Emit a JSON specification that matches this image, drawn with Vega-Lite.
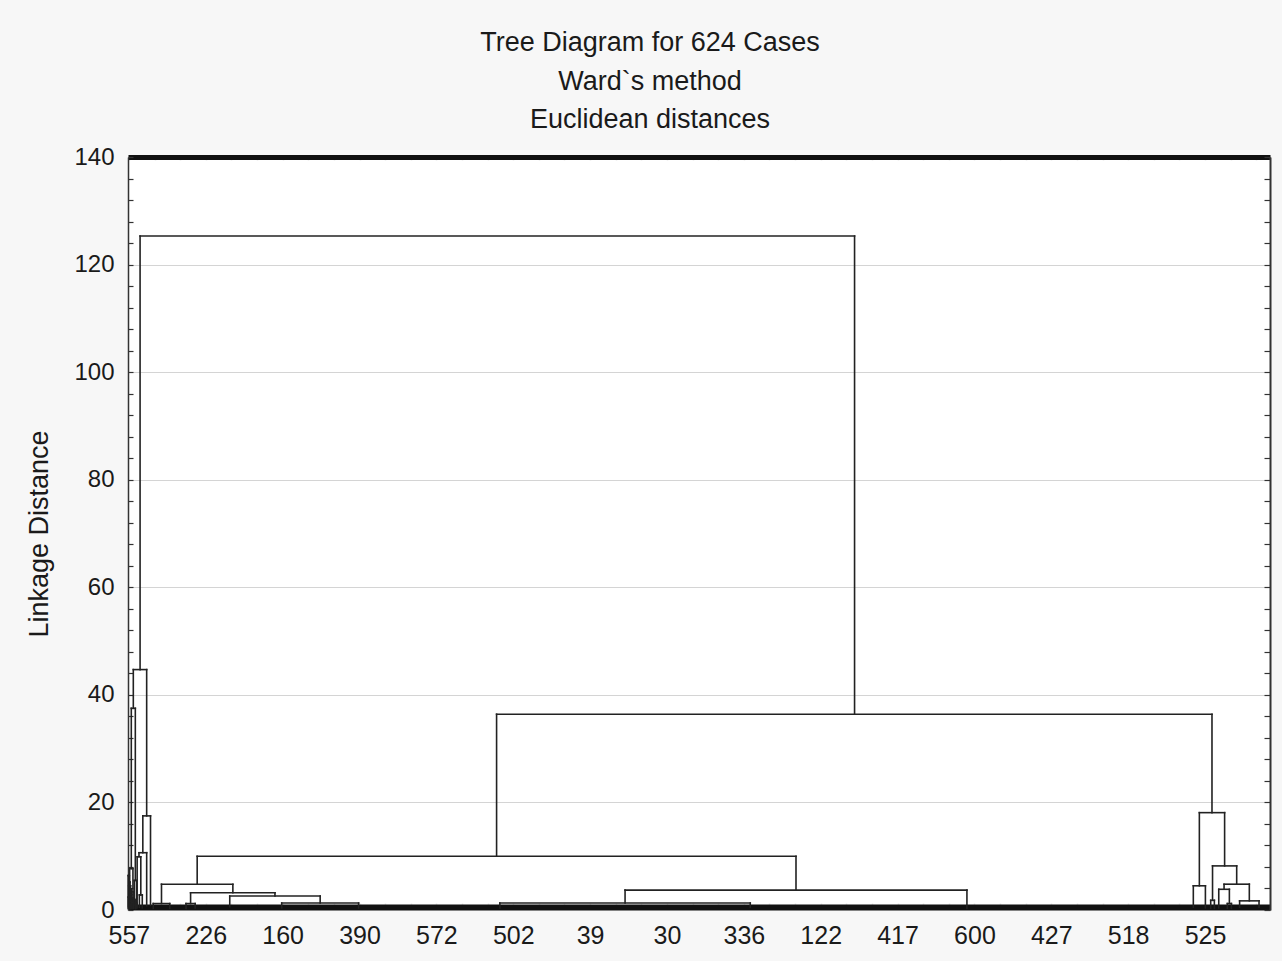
{
  "$schema": "https://vega.github.io/schema/vega-lite/v6.json",
  "width": 1142,
  "height": 753,
  "autosize": {"type": "none"},
  "padding": {"left": 128, "top": 157, "right": 12, "bottom": 51},
  "background": "#f7f7f7",
  "config": {
    "view": {"stroke": null, "fill": "white"},
    "font": "Liberation Sans",
    "rule": {"color": "#222222", "strokeWidth": 1.6, "strokeCap": "square"}
  },
  "title": {
    "text": ["Tree Diagram for 624 Cases", "Ward`s method", "Euclidean distances"],
    "font": "Liberation Sans",
    "fontSize": 27,
    "fontWeight": "normal",
    "color": "#1a1a1a",
    "lineHeight": 38.5,
    "anchor": "middle",
    "baseline": "bottom",
    "dx": -49,
    "dy": 38,
    "offset": 22
  },
  "data": {
    "values": [
      {"xl": 6.6, "xr": 397.0, "hl": 44.7, "hr": 36.4, "h": 125.3},
      {"xl": 2.9, "xr": 10.2, "hl": 37.5, "hr": 17.5, "h": 44.7},
      {"xl": 1.8, "xr": 4.0, "hl": 7.7, "hr": 5.5, "h": 37.5},
      {"xl": 8.1, "xr": 12.3, "hl": 10.65, "hr": 0.9, "h": 17.5},
      {"xl": 6.0, "xr": 10.2, "hl": 9.9, "hr": 0.8, "h": 10.65},
      {"xl": 5.0, "xr": 7.0, "hl": 0.6, "hr": 2.8, "h": 9.9},
      {"xl": 6.2, "xr": 7.8, "hl": 0.5, "hr": 0.4, "h": 2.8},
      {"xl": 0.9, "xr": 2.7, "hl": 4.5, "hr": 3.4, "h": 7.7},
      {"xl": 3.4, "xr": 4.6, "hl": 2.0, "hr": 1.2, "h": 5.5},
      {"xl": 0.4, "xr": 1.4, "hl": 2.4, "hr": 1.6, "h": 4.5},
      {"xl": 2.2, "xr": 3.2, "hl": 1.4, "hr": 0.9, "h": 3.4},
      {"xl": 0.2, "xr": 0.6, "hl": 0.6, "hr": 0.9, "h": 2.4},
      {"xl": 1.2, "xr": 1.6, "hl": 0.4, "hr": 0.7, "h": 1.6},
      {"xl": 3.2, "xr": 3.6, "hl": 0.5, "hr": 0.8, "h": 2.0},
      {"xl": 2.0, "xr": 2.4, "hl": 0.3, "hr": 0.5, "h": 1.4},
      {"xl": 4.3, "xr": 4.9, "hl": 0.3, "hr": 0.4, "h": 1.2},
      {"xl": 0.1, "xr": 0.7, "hl": 0.3, "hr": 0.5, "h": 6.4},
      {"xl": 0.5, "xr": 1.1, "hl": 0.4, "hr": 0.3, "h": 5.2},
      {"xl": 1.0, "xr": 1.8, "hl": 0.5, "hr": 0.6, "h": 3.9},
      {"xl": 1.5, "xr": 2.1, "hl": 0.3, "hr": 0.4, "h": 2.9},
      {"xl": 2.5, "xr": 3.0, "hl": 0.3, "hr": 0.3, "h": 2.2},
      {"xl": 3.8, "xr": 4.2, "hl": 0.3, "hr": 0.3, "h": 1.8},
      {"xl": 201.4, "xr": 592.3, "hl": 10.0, "hr": 18.1, "h": 36.4},
      {"xl": 585.4, "xr": 599.2, "hl": 4.5, "hr": 8.2, "h": 18.1},
      {"xl": 582.1, "xr": 588.7, "hl": 0.5, "hr": 0.4, "h": 4.5},
      {"xl": 592.6, "xr": 605.8, "hl": 1.8, "hr": 4.8, "h": 8.2},
      {"xl": 591.6, "xr": 593.6, "hl": 0.3, "hr": 0.3, "h": 1.8},
      {"xl": 598.9, "xr": 612.7, "hl": 3.85, "hr": 1.7, "h": 4.8},
      {"xl": 596.0, "xr": 601.8, "hl": 0.4, "hr": 1.2, "h": 3.85},
      {"xl": 600.7, "xr": 602.9, "hl": 0.3, "hr": 0.3, "h": 1.2},
      {"xl": 607.4, "xr": 618.0, "hl": 0.5, "hr": 0.5, "h": 1.7},
      {"xl": 37.8, "xr": 365.0, "hl": 4.8, "hr": 3.7, "h": 10.0},
      {"xl": 18.3, "xr": 57.3, "hl": 1.2, "hr": 3.2, "h": 4.8},
      {"xl": 13.8, "xr": 22.8, "hl": 0.3, "hr": 0.3, "h": 1.2},
      {"xl": 34.2, "xr": 80.3, "hl": 1.2, "hr": 2.6, "h": 3.2},
      {"xl": 31.7, "xr": 36.7, "hl": 0.3, "hr": 0.4, "h": 1.2},
      {"xl": 55.6, "xr": 105.0, "hl": 0.6, "hr": 1.3, "h": 2.6},
      {"xl": 271.6, "xr": 458.4, "hl": 1.3, "hr": 0.3, "h": 3.7},
      {"xl": 203.2, "xr": 340.0, "hl": 0.4, "hr": 0.5, "h": 1.3},
      {"xl": 84.0, "xr": 126.0, "hl": 0.4, "hr": 0.4, "h": 1.3}
    ]
  },
  "resolve": {"axis": {"x": "independent", "y": "independent"}},
  "layer": [
    {
      "mark": {"type": "rule"},
      "encoding": {
        "x": {
          "field": "xl", "type": "quantitative",
          "scale": {"domain": [0, 624], "nice": false, "zero": false},
          "axis": {
            "orient": "bottom",
            "title": null,
            "values": [0.5,14.5,28.5,42.5,56.5,70.5,84.5,98.5,112.5,126.5,140.5,154.5,168.5,182.5,196.5,210.5,224.5,238.5,252.5,266.5,280.5,294.5,308.5,322.5,336.5,350.5,364.5,378.5,392.5,406.5,420.5,434.5,448.5,462.5,476.5,490.5,504.5,518.5,532.5,546.5,560.5,574.5,588.5,602.5,616.5],
            "labelExpr": "(datum.value - 0.5) % 42 == 0 ? ['557','226','160','390','572','502','39','30','336','122','417','600','427','518','525'][(datum.value - 0.5) / 42] : ''",
            "labelFont": "Liberation Sans",
            "labelFontSize": 25,
            "labelColor": "#1a1a1a",
            "labelPadding": 20,
            "labelOverlap": false,
            "labelFlush": false,
            "labelBound": false,
            "tickSize": -4,
            "tickColor": "#e6e6e6",
            "tickWidth": 1.5,
            "domainColor": "#111111",
            "domainWidth": 6,
            "offset": -3,
            "grid": false
          }
        },
        "y": {
          "field": "hl", "type": "quantitative",
          "scale": {"domain": [0, 140], "nice": false, "zero": true},
          "axis": {
            "orient": "left",
            "title": "Linkage Distance",
            "titleFont": "Liberation Sans",
            "titleFontSize": 27,
            "titleFontWeight": "normal",
            "titleColor": "#1a1a1a",
            "titlePadding": 20,
            "values": [0,4,8,12,16,20,24,28,32,36,40,44,48,52,56,60,64,68,72,76,80,84,88,92,96,100,104,108,112,116,120,124,128,132,136,140],
            "labelExpr": "datum.value % 20 === 0 ? datum.label : ''",
            "labelFont": "Liberation Sans",
            "labelFontSize": 24,
            "labelColor": "#1a1a1a",
            "labelPadding": 19,
            "labelOverlap": false,
            "labelFlush": false,
            "labelBound": false,
            "tickSize": -5,
            "tickColor": "#333333",
            "tickWidth": 1.2,
            "domainColor": "#333333",
            "domainWidth": 1.5,
            "grid": true,
            "gridColor": "#d4d4d4",
            "gridWidth": 1,
            "gridOpacity": {"condition": {"test": "datum.value % 20 === 0 && datum.value > 0 && datum.value < 140", "value": 1}, "value": 0}
          }
        },
        "y2": {"field": "h"}
      }
    },
    {
      "mark": {"type": "rule"},
      "encoding": {
        "x": {
          "field": "xr", "type": "quantitative",
          "axis": {
            "orient": "top",
            "title": null,
            "labels": false,
            "values": [0.5,14.5,28.5,42.5,56.5,70.5,84.5,98.5,112.5,126.5,140.5,154.5,168.5,182.5,196.5,210.5,224.5,238.5,252.5,266.5,280.5,294.5,308.5,322.5,336.5,350.5,364.5,378.5,392.5,406.5,420.5,434.5,448.5,462.5,476.5,490.5,504.5,518.5,532.5,546.5,560.5,574.5,588.5,602.5,616.5],
            "tickSize": -3,
            "tickColor": "#e6e6e6",
            "tickWidth": 1.5,
            "domainColor": "#111111",
            "domainWidth": 5,
            "grid": false
          }
        },
        "y": {
          "field": "hr", "type": "quantitative",
          "axis": {
            "orient": "right",
            "title": null,
            "labels": false,
            "values": [0,4,8,12,16,20,24,28,32,36,40,44,48,52,56,60,64,68,72,76,80,84,88,92,96,100,104,108,112,116,120,124,128,132,136,140],
            "tickSize": -6,
            "tickColor": "#333333",
            "tickWidth": 1.2,
            "domainColor": "#333333",
            "domainWidth": 2,
            "grid": false
          }
        },
        "y2": {"field": "h"}
      }
    },
    {
      "mark": {"type": "rule"},
      "encoding": {
        "x": {"field": "xl", "type": "quantitative", "axis": null},
        "x2": {"field": "xr"},
        "y": {"field": "h", "type": "quantitative", "axis": null}
      }
    }
  ]
}
